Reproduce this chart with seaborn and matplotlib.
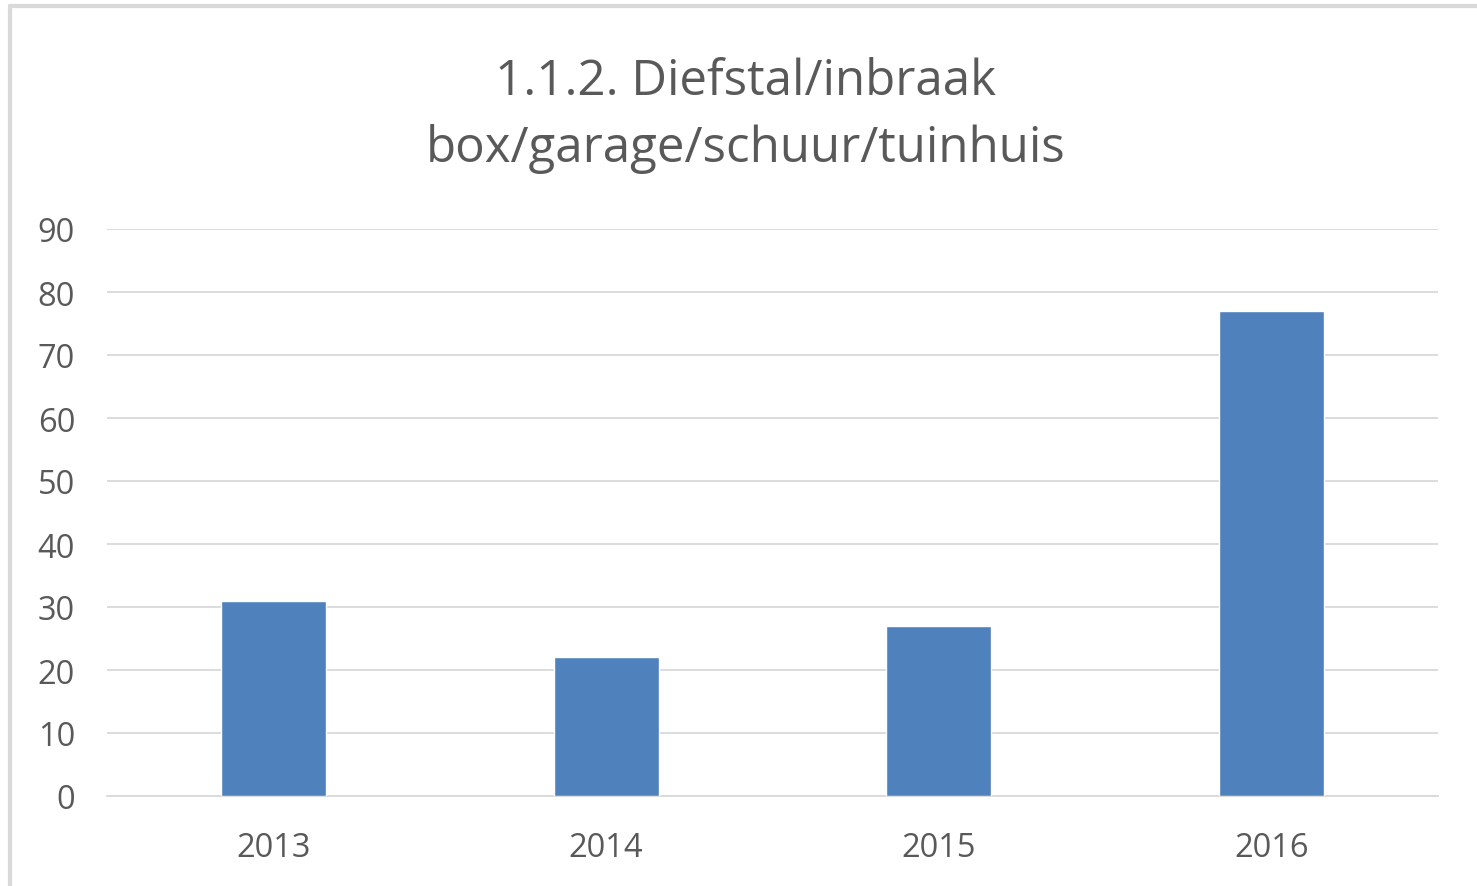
import pandas as pd
import matplotlib.pyplot as plt
import seaborn as sns
from matplotlib.lines import Line2D

years = ["2013", "2014", "2015", "2016"]
counts = [31, 22, 27, 77]
y_ticks = [0, 10, 20, 30, 40, 50, 60, 70, 80, 90]
title = "1.1.2. Diefstal/inbraak\nbox/garage/schuur/tuinhuis"

bar_color = "#4F81BD"
text_color = "#595959"
grid_color = "#D9D9D9"

sns.set_theme(style="white")
plt.rcParams["font.family"] = ["Open Sans", "DejaVu Sans"]

df = pd.DataFrame({"year": years, "count": counts})

fig = plt.figure(figsize=(14.77, 8.87), dpi=100)
ax = fig.add_axes([107 / 1477, 1 - 797 / 887, (1438 - 107) / 1477, (797 - 230) / 887])

sns.barplot(data=df, x="year", y="count", color=bar_color, width=0.316,
            saturation=1, ax=ax, zorder=3)

ax.set_xlim(-0.5, len(years) - 0.5)
ax.set_ylim(0, 90)
ax.set_yticks(y_ticks)
ax.set_xlabel("")
ax.set_ylabel("")
ax.yaxis.grid(True, color=grid_color, linewidth=1.3, zorder=0)
ax.set_axisbelow(True)
for side in ["top", "right", "left"]:
    ax.spines[side].set_visible(False)
ax.spines["bottom"].set_color(grid_color)
ax.spines["bottom"].set_linewidth(1.3)
ax.tick_params(axis="both", length=0, labelsize=23.5, colors=text_color)
ax.tick_params(axis="y", pad=23)
ax.tick_params(axis="x", pad=25)

fig.text(746 / 1477, 1 - 116 / 887, title, ha="center", va="center",
         fontsize=35.5, color=text_color, linespacing=1.45)

# light frame around the chart area (left and top edges)
fig.add_artist(Line2D([10 / 1477, 10 / 1477], [0, 1 - 7 / 887], color=grid_color,
                      linewidth=3, transform=fig.transFigure))
fig.add_artist(Line2D([10 / 1477, 1], [1 - 7 / 887, 1 - 7 / 887], color=grid_color,
                      linewidth=3, transform=fig.transFigure))

fig.savefig("out.png", dpi=100)
